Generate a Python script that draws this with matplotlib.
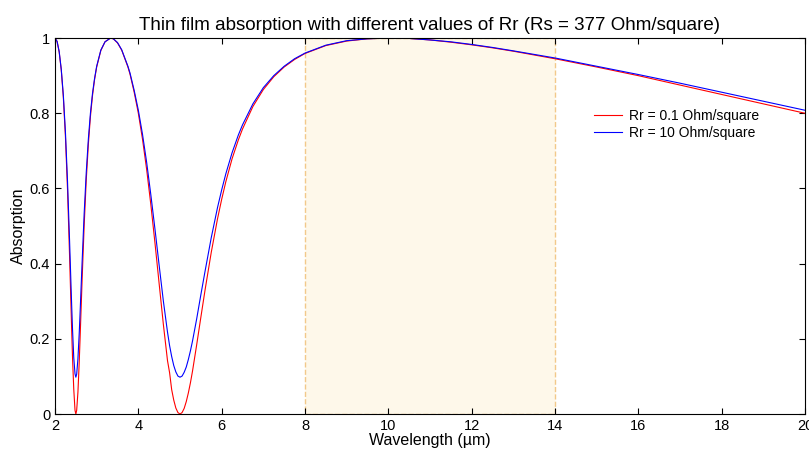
import matplotlib
matplotlib.use("Agg")
import matplotlib.pyplot as plt

plt.rcParams["font.family"] = ["Liberation Sans", "DejaVu Sans"]

# wavelength (um) and absorption
wavelength = [2.0, 2.05, 2.1, 2.15, 2.2, 2.25, 2.3, 2.35, 2.4, 2.42, 2.45, 2.48, 2.5,
              2.52, 2.55, 2.58, 2.6, 2.65, 2.7, 2.75, 2.8, 2.85, 2.9, 2.95, 3.0,
              3.1, 3.2, 3.333, 3.4, 3.5, 3.6, 3.75, 3.8, 3.9, 4.0, 4.1, 4.2, 4.3,
              4.4, 4.5, 4.6, 4.7, 4.75, 4.8, 4.85, 4.9, 4.95, 5.0, 5.05, 5.1, 5.15,
              5.2, 5.25, 5.3, 5.4, 5.5, 5.6, 5.75, 5.9, 6.0, 6.1, 6.25, 6.4, 6.5,
              6.75, 7.0, 7.25, 7.5, 7.75, 8.0, 8.5, 9.0, 9.5, 10.0, 10.5, 11.0,
              11.5, 12.0, 12.5, 13.0, 14.0, 15.0, 16.0, 17.0, 18.0, 19.0, 20.0]

abs_rr01 = [1.0, 0.991, 0.963, 0.915, 0.842, 0.738, 0.597, 0.418, 0.223, 0.151, 0.066,
            0.010, 0.0, 0.010, 0.058, 0.135, 0.196, 0.356, 0.502, 0.623, 0.717, 0.791,
            0.847, 0.890, 0.923, 0.967, 0.990, 1.0, 0.998, 0.987, 0.968, 0.923, 0.904,
            0.856, 0.800, 0.731, 0.650, 0.557, 0.454, 0.346, 0.239, 0.142, 0.110,
            0.065, 0.037, 0.016, 0.004, 0.0, 0.004, 0.015, 0.033, 0.056, 0.083, 0.114,
            0.184, 0.257, 0.329, 0.430, 0.519, 0.571, 0.618, 0.679, 0.729, 0.758,
            0.818, 0.863, 0.897, 0.923, 0.943, 0.959, 0.980, 0.992, 0.998,
            1.0, 0.999, 0.995, 0.989, 0.982, 0.974, 0.965, 0.945, 0.923, 0.900,
            0.875, 0.850, 0.825, 0.800]

abs_rr10 = [1.0, 0.991, 0.964, 0.917, 0.848, 0.750, 0.619, 0.459, 0.288, 0.226, 0.150,
            0.107, 0.098, 0.106, 0.147, 0.212, 0.264, 0.403, 0.534, 0.643, 0.731, 0.800,
            0.853, 0.893, 0.925, 0.968, 0.990, 1.0, 0.998, 0.988, 0.969, 0.925, 0.907,
            0.861, 0.808, 0.744, 0.669, 0.583, 0.491, 0.395, 0.301, 0.218, 0.182,
            0.153, 0.129, 0.112, 0.101, 0.098, 0.101, 0.111, 0.125, 0.145, 0.168, 0.194,
            0.253, 0.317, 0.379, 0.469, 0.549, 0.596, 0.639, 0.695, 0.742, 0.769,
            0.825, 0.868, 0.900, 0.925, 0.945, 0.960, 0.981, 0.993, 0.998,
            1.0, 0.999, 0.995, 0.990, 0.983, 0.975, 0.966, 0.947, 0.925, 0.903,
            0.880, 0.856, 0.832, 0.808]

band = (8, 14)

fig = plt.figure(figsize=(8.09, 4.53), dpi=100)
ax = fig.add_axes([0.068, 0.086, 0.927, 0.830])

ax.axvspan(band[0], band[1], ymin=0, ymax=1, facecolor="#fef8ea",
           edgecolor="#f2c98a", linestyle="--", linewidth=1.0, zorder=0)

ax.plot(wavelength, abs_rr01, color="#ff0000", linewidth=0.8, label="Rr = 0.1 Ohm/square")
ax.plot(wavelength, abs_rr10, color="#0000ff", linewidth=0.8, label="Rr = 10 Ohm/square")

ax.set_xlim(2, 20)
ax.set_ylim(0, 1)
ax.set_xticks(range(2, 21, 2))
ax.set_yticks([0, 0.2, 0.4, 0.6, 0.8, 1.0])
ax.set_yticklabels(["0", "0.2", "0.4", "0.6", "0.8", "1"])
ax.tick_params(direction="in", top=True, right=True, labelsize=10.5, length=4)

ax.set_title("Thin film absorption with different values of Rr (Rs = 377 Ohm/square)",
             fontsize=13.5, pad=6)
ax.set_xlabel("Wavelength (µm)", fontsize=11.5, labelpad=0)
ax.set_ylabel("Absorption", fontsize=11.5, labelpad=3)

ax.legend(loc="upper left", bbox_to_anchor=(0.702, 0.845), frameon=False,
          fontsize=10, handlelength=2.0, handletextpad=0.5, labelspacing=0.25)

fig.savefig("out.png", dpi=100)
